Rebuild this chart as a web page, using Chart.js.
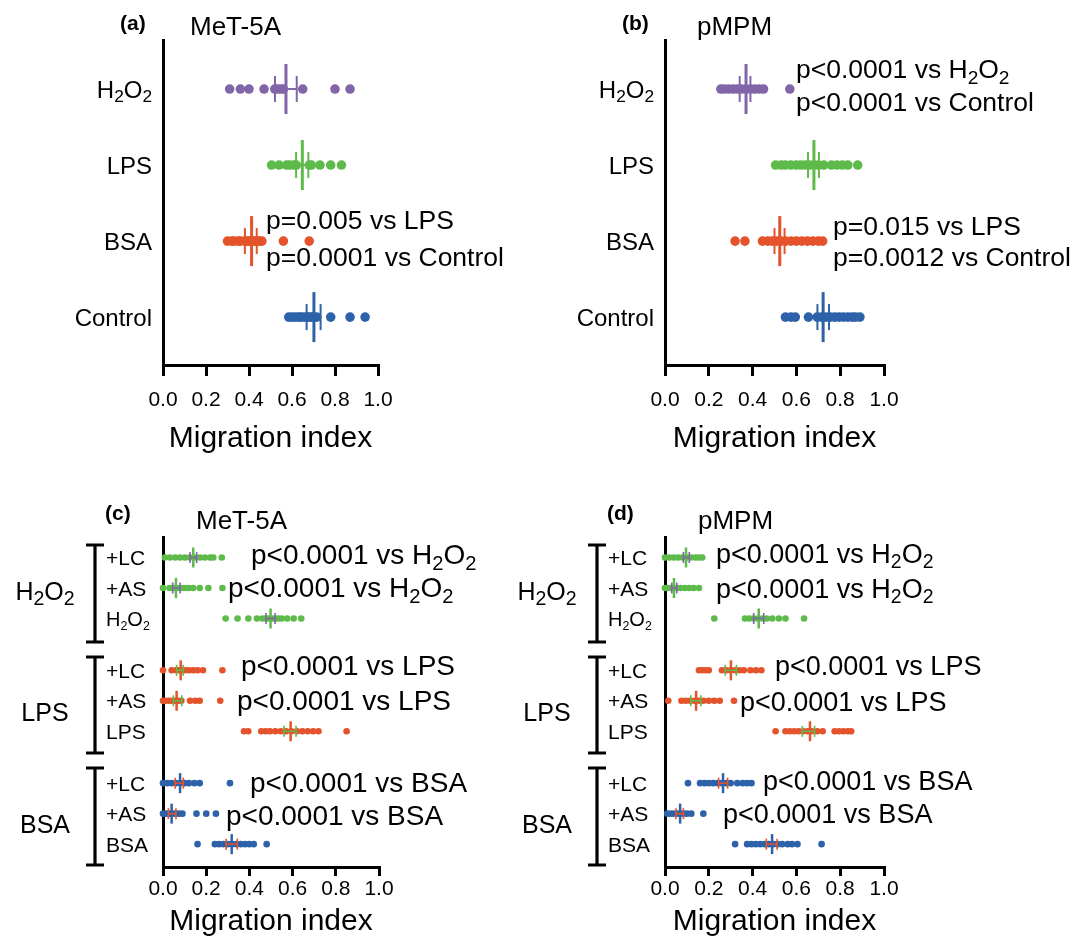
<!DOCTYPE html>
<html><head><meta charset="utf-8">
<script src="https://cdn.jsdelivr.net/npm/chart.js@4.4.0/dist/chart.umd.min.js"></script>
<style>
html,body{margin:0;padding:0;background:#fff;}
body{width:1073px;height:946px;position:relative;overflow:hidden;}
canvas{position:absolute;left:0;top:0;}
</style></head><body>
<canvas id="ca" width="1073" height="946"></canvas>
<canvas id="cb" width="1073" height="946"></canvas>
<canvas id="cc" width="1073" height="946"></canvas>
<canvas id="cd" width="1073" height="946"></canvas>
<script>
// ================= DATA =================
const xTickValues = [0.0, 0.2, 0.4, 0.6, 0.8, 1.0];
const xAxisTitle = 'Migration index';

// top panels: categories (H_2 = subscript)
const topCategories = ['H_2O_2', 'LPS', 'BSA', 'Control'];

// (a) MeT-5A
const a_H2O2 = [0.31, 0.36, 0.40, 0.47, 0.52, 0.535, 0.55, 0.56, 0.65, 0.80, 0.87];
const a_LPS = [0.505, 0.54, 0.575, 0.59, 0.61, 0.62, 0.68, 0.69, 0.73, 0.78, 0.83];
const a_BSA = [0.30, 0.32, 0.33, 0.35, 0.36, 0.38, 0.39, 0.40, 0.41, 0.42, 0.43, 0.44, 0.45, 0.46, 0.56, 0.68];
const a_Control = [0.585, 0.60, 0.615, 0.63, 0.64, 0.655, 0.67, 0.68, 0.69, 0.70, 0.715, 0.78, 0.87, 0.94];
const a_means = [0.572, 0.648, 0.412, 0.702];
const a_errLow = [0.521, 0.619, 0.381, 0.668];
const a_errHigh = [0.622, 0.676, 0.436, 0.733];
const a_pTexts = ['p=0.005 vs LPS', 'p=0.0001 vs Control'];

// (b) pMPM
const b_H2O2 = [0.255, 0.27, 0.29, 0.31, 0.33, 0.35, 0.37, 0.39, 0.41, 0.43, 0.45, 0.57];
const b_LPS = [0.505, 0.53, 0.55, 0.575, 0.60, 0.62, 0.64, 0.66, 0.68, 0.70, 0.725, 0.76, 0.785, 0.81, 0.835, 0.88];
const b_BSA = [0.32, 0.365, 0.445, 0.47, 0.49, 0.51, 0.53, 0.55, 0.575, 0.60, 0.625, 0.65, 0.675, 0.70, 0.72];
const b_Control = [0.55, 0.575, 0.595, 0.655, 0.695, 0.715, 0.735, 0.755, 0.775, 0.795, 0.815, 0.835, 0.855, 0.87, 0.89];
const b_means = [0.370, 0.680, 0.524, 0.722];
const b_errLow = [0.341, 0.653, 0.500, 0.696];
const b_errHigh = [0.390, 0.703, 0.546, 0.749];
const b_pTexts = ['p<0.0001 vs H_2O_2', 'p<0.0001 vs Control', 'p=0.015 vs LPS', 'p=0.0012 vs Control'];

// bottom panels
const groupNames = ['H_2O_2', 'LPS', 'BSA'];
const subCategories = ['+LC', '+AS', 'H_2O_2', '+LC', '+AS', 'LPS', '+LC', '+AS', 'BSA'];

// (c) MeT-5A
const c_H2O2_LC = [0.009, 0.032, 0.056, 0.079, 0.102, 0.125, 0.148, 0.171, 0.194, 0.218, 0.233, 0.272];
const c_H2O2_AS = [0.0, 0.03, 0.045, 0.06, 0.075, 0.09, 0.105, 0.12, 0.14, 0.17, 0.21, 0.275];
const c_H2O2 = [0.29, 0.345, 0.395, 0.435, 0.46, 0.475, 0.49, 0.505, 0.52, 0.535, 0.55, 0.575, 0.605, 0.64];
const c_LPS_LC = [0.0, 0.04, 0.06, 0.075, 0.09, 0.105, 0.12, 0.14, 0.16, 0.185, 0.275];
const c_LPS_AS = [0.0, 0.01, 0.025, 0.04, 0.055, 0.07, 0.085, 0.125, 0.15, 0.17, 0.265];
const c_LPS = [0.375, 0.395, 0.455, 0.475, 0.495, 0.52, 0.545, 0.57, 0.595, 0.62, 0.645, 0.67, 0.695, 0.72, 0.85];
const c_BSA_LC = [0.0, 0.02, 0.04, 0.06, 0.08, 0.10, 0.12, 0.145, 0.17, 0.31];
const c_BSA_AS = [0.0, 0.015, 0.03, 0.045, 0.06, 0.075, 0.09, 0.155, 0.20, 0.245];
const c_BSA = [0.16, 0.24, 0.26, 0.28, 0.30, 0.32, 0.34, 0.36, 0.38, 0.40, 0.42, 0.48];
const c_means = [0.140, 0.060, 0.498, 0.082, 0.063, 0.591, 0.079, 0.040, 0.318];
const c_errLow = [0.125, 0.045, 0.477, 0.063, 0.048, 0.560, 0.056, 0.025, 0.292];
const c_errHigh = [0.156, 0.079, 0.519, 0.094, 0.087, 0.616, 0.094, 0.060, 0.344];
const c_pTexts = ['p<0.0001 vs H_2O_2', 'p<0.0001 vs H_2O_2', 'p<0.0001 vs LPS', 'p<0.0001 vs LPS', 'p<0.0001 vs BSA', 'p<0.0001 vs BSA'];

// (d) pMPM
const d_H2O2_LC = [0.0, 0.02, 0.04, 0.06, 0.08, 0.10, 0.12, 0.14, 0.155, 0.17];
const d_H2O2_AS = [0.0, 0.01, 0.025, 0.04, 0.055, 0.07, 0.09, 0.11, 0.13, 0.155];
const d_H2O2 = [0.225, 0.365, 0.385, 0.405, 0.425, 0.445, 0.465, 0.49, 0.52, 0.55, 0.635];
const d_LPS_LC = [0.155, 0.17, 0.185, 0.20, 0.26, 0.28, 0.30, 0.32, 0.34, 0.36, 0.39, 0.415, 0.44];
const d_LPS_AS = [0.015, 0.075, 0.095, 0.115, 0.135, 0.155, 0.175, 0.20, 0.225, 0.25, 0.315];
const d_LPS = [0.505, 0.55, 0.57, 0.59, 0.61, 0.63, 0.65, 0.67, 0.695, 0.72, 0.775, 0.795, 0.815, 0.835, 0.85];
const d_BSA_LC = [0.105, 0.16, 0.18, 0.20, 0.22, 0.24, 0.26, 0.28, 0.30, 0.33, 0.355, 0.375, 0.395];
const d_BSA_AS = [0.01, 0.025, 0.04, 0.055, 0.07, 0.085, 0.10, 0.12, 0.175];
const d_BSA = [0.32, 0.375, 0.395, 0.415, 0.435, 0.455, 0.475, 0.495, 0.515, 0.535, 0.56, 0.58, 0.605, 0.715];
const d_means = [0.096, 0.041, 0.428, 0.301, 0.142, 0.662, 0.265, 0.069, 0.489];
const d_errLow = [0.084, 0.031, 0.405, 0.275, 0.118, 0.627, 0.245, 0.050, 0.463];
const d_errHigh = [0.111, 0.054, 0.451, 0.326, 0.164, 0.683, 0.286, 0.084, 0.512];
const d_pTexts = ['p<0.0001 vs H_2O_2', 'p<0.0001 vs H_2O_2', 'p<0.0001 vs LPS', 'p<0.0001 vs LPS', 'p<0.0001 vs BSA', 'p<0.0001 vs BSA'];

// ================= STYLE / LAYOUT =================
const FONT = "'Liberation Sans', Arial, Helvetica, sans-serif";
Chart.defaults.font.family = FONT;
Chart.defaults.color = '#000';
const PURPLE = '#8165A8', GREEN = '#5EBA4A', ORANGE = '#E4532B', BLUE = '#2D62AA';

function drawRich(ctx, text, x, yMid, size, align, bold, subScale) {
  const ss = subScale || 0.68;
  const segs = [];
  for (let i = 0; i < text.length; i++) {
    if (text[i] === '_') { segs.push({ t: text[i + 1], sub: true }); i++; }
    else if (segs.length && !segs[segs.length - 1].sub) segs[segs.length - 1].t += text[i];
    else segs.push({ t: text[i], sub: false });
  }
  const fontOf = s => (bold ? 'bold ' : '') + (s.sub ? size * ss : size) + 'px ' + FONT;
  let total = 0;
  segs.forEach(s => { ctx.font = fontOf(s); s.w = ctx.measureText(s.t).width; total += s.w; });
  let cx = align === 'right' ? x - total : align === 'center' ? x - total / 2 : x;
  const base = yMid + size * 0.358;
  ctx.save();
  ctx.textAlign = 'left'; ctx.textBaseline = 'alphabetic'; ctx.fillStyle = '#000';
  segs.forEach(s => { ctx.font = fontOf(s); ctx.fillText(s.t, cx, base + (s.sub ? size * 0.2 : 0)); cx += s.w; });
  ctx.restore();
}

function line(ctx, x1, y1, x2, y2, w) {
  ctx.save(); ctx.strokeStyle = '#000'; ctx.lineWidth = w; ctx.lineCap = 'butt';
  ctx.beginPath(); ctx.moveTo(x1, y1); ctx.lineTo(x2, y2); ctx.stroke(); ctx.restore();
}

function panel(canvasId, cfg) {
  const ds = [];
  cfg.series.forEach((vals, i) => {
    const y = cfg.rowPos[i];
    const col = cfg.colors[i], ecol = cfg.errColors[i];
    ds.push({ data: vals.map(v => ({ x: v, y: y })), pointRadius: cfg.dotR, pointBackgroundColor: col,
      pointBorderWidth: 0, showLine: false, order: 3, clip: false });
    ds.push({ data: [{ x: cfg.lo[i], y: y }, { x: cfg.hi[i], y: y }], showLine: true, borderColor: ecol,
      borderWidth: cfg.barW, pointStyle: 'line', rotation: 90, pointRadius: cfg.errR,
      pointBorderColor: ecol, pointBorderWidth: cfg.errW, order: 1, clip: false });
    ds.push({ data: [{ x: cfg.means[i], y: y }], showLine: false, pointStyle: 'line', rotation: 90,
      pointRadius: cfg.meanR, pointBorderColor: col, pointBorderWidth: cfg.meanW, order: 2, clip: false });
  });
  const A = cfg.area;
  return new Chart(document.getElementById(canvasId), {
    type: 'scatter',
    data: { datasets: ds },
    options: {
      responsive: false, animation: false, events: [], devicePixelRatio: 1,
      plugins: { legend: { display: false }, tooltip: { enabled: false } },
      layout: { padding: { left: A.left, right: 1073 - A.right, top: A.top, bottom: 946 - cfg.boxBottom } },
      scales: {
        x: {
          type: 'linear', min: 0, max: 1, position: 'bottom',
          afterBuildTicks: s => { s.ticks = xTickValues.map(v => ({ value: v })); },
          ticks: { callback: v => Number(v).toFixed(1), font: { size: 21 }, color: '#000', padding: cfg.tickPad,
            maxRotation: 0, autoSkip: false },
          grid: { display: true, drawOnChartArea: false, drawTicks: true, tickLength: cfg.tickLen, color: '#000', lineWidth: 3 },
          border: { display: true, color: '#000', width: 3 },
          title: { display: true, text: xAxisTitle, font: { size: 30 }, color: '#000', padding: { top: 0, bottom: cfg.titlePad } },
          afterFit: s => { s.height = cfg.boxBottom - A.bottom; }
        },
        y: {
          type: 'linear', min: cfg.yMin, max: cfg.yMax, reverse: true, position: 'left',
          ticks: { display: false }, grid: { display: false },
          border: { display: true, color: '#000', width: 3 },
          afterFit: s => { s.width = 0; }
        }
      }
    },
    plugins: [{ id: 'deco', afterDraw(chart) { cfg.decorate(chart.ctx, chart); } }]
  });
}

const topRows = [0, 1, 2, 3];
const botRows = [0, 1, 2, 3.7, 4.7, 5.7, 7.4, 8.4, 9.4];
const topColors = [PURPLE, GREEN, ORANGE, BLUE];
const botColors = [GREEN, GREEN, GREEN, ORANGE, ORANGE, ORANGE, BLUE, BLUE, BLUE];
const botErrColors = [PURPLE, PURPLE, PURPLE, GREEN, GREEN, GREEN, ORANGE, ORANGE, ORANGE];

function topPanel(id, series, means, lo, hi, dx, letter, title, pTextPos, pTexts, pSize) {
  panel(id, {
    series, means, lo, hi, rowPos: topRows, colors: topColors, errColors: topColors,
    area: { left: 163 + dx, right: 378 + dx + (dx ? 4 : 0), top: 40, bottom: 365 }, boxBottom: 473,
    yMin: -0.645, yMax: 3.63, dotR: 4.8, meanR: 25, meanW: 3, errR: 13, errW: 2, barW: 2,
    tickPad: 12, tickLen: 11, titlePad: 16,
    decorate(ctx, chart) {
      const ys = chart.scales.y;
      topCategories.forEach((c, i) => drawRich(ctx, c, 152 + dx, ys.getPixelForValue(topRows[i]), 24, 'right', false, 0.72));
      drawRich(ctx, letter, 120 + dx, 22, 21, 'left', true);
      drawRich(ctx, title, 190 + dx + (dx ? 5 : 0), 26, 26, 'left');
      pTexts.forEach((t, i) => drawRich(ctx, t, pTextPos[i][0], pTextPos[i][1], pSize, 'left', false, 0.72));
    }
  });
}

topPanel('ca', [a_H2O2, a_LPS, a_BSA, a_Control], a_means, a_errLow, a_errHigh, 0, '(a)', 'MeT-5A',
  [[266, 220], [266, 257]], a_pTexts, 26.5);
topPanel('cb', [b_H2O2, b_LPS, b_BSA, b_Control], b_means, b_errLow, b_errHigh, 502, '(b)', 'pMPM',
  [[796, 69], [796, 102], [833, 226], [833, 257]], b_pTexts, 26.5);

function botPanel(id, series, means, lo, hi, dx, letter, title, pTextPos, pTexts, pSize) {
  panel(id, {
    series, means, lo, hi, rowPos: botRows, colors: botColors, errColors: botErrColors,
    area: { left: 163 + dx, right: 379 + dx + (dx ? 3 : 0), top: 537, bottom: 867 }, boxBottom: 946,
    yMin: -0.672, yMax: 10.15, dotR: 3.3, meanR: 10, meanW: 2.5, errR: 5.5, errW: 1.6, barW: 1.5,
    tickPad: 1, tickLen: 9, titlePad: 6,
    decorate(ctx, chart) {
      const ys = chart.scales.y;
      const brk = [[545, 642], [657, 753], [768, 865]];
      const gy = [591, 712, 824];
      brk.forEach((b, g) => {
        line(ctx, 95 + dx, b[0], 95 + dx, b[1], 3.2);
        line(ctx, 86 + dx, b[0], 104 + dx, b[0], 3);
        line(ctx, 86 + dx, b[1], 104 + dx, b[1], 3);
        drawRich(ctx, groupNames[g], 45 + dx, gy[g], 25, 'center', false, 0.78);
      });
      subCategories.forEach((c, i) => {
        const hasSub = c.indexOf('_') >= 0;
        drawRich(ctx, c, 106 + dx, ys.getPixelForValue(botRows[i]), hasSub ? 20 : 21, 'left', false, 0.62);
      });
      drawRich(ctx, letter, 105 + dx, 512, 21, 'left', true);
      drawRich(ctx, title, 196 + dx, 520, 26, 'left');
      pTexts.forEach((t, i) => drawRich(ctx, t, pTextPos[i][0], pTextPos[i][1], pSize, 'left', false, 0.72));
    }
  });
}

botPanel('cc', [c_H2O2_LC, c_H2O2_AS, c_H2O2, c_LPS_LC, c_LPS_AS, c_LPS, c_BSA_LC, c_BSA_AS, c_BSA],
  c_means, c_errLow, c_errHigh, 0, '(c)', 'MeT-5A',
  [[251, 554], [228, 587], [241, 665], [237, 700], [250, 782], [226, 815]], c_pTexts, 28);
botPanel('cd', [d_H2O2_LC, d_H2O2_AS, d_H2O2, d_LPS_LC, d_LPS_AS, d_LPS, d_BSA_LC, d_BSA_AS, d_BSA],
  d_means, d_errLow, d_errHigh, 502, '(d)', 'pMPM',
  [[716, 553], [716, 588], [775, 665], [740, 701], [763, 780], [723, 813]], d_pTexts, 27);
</script>
</body></html>
